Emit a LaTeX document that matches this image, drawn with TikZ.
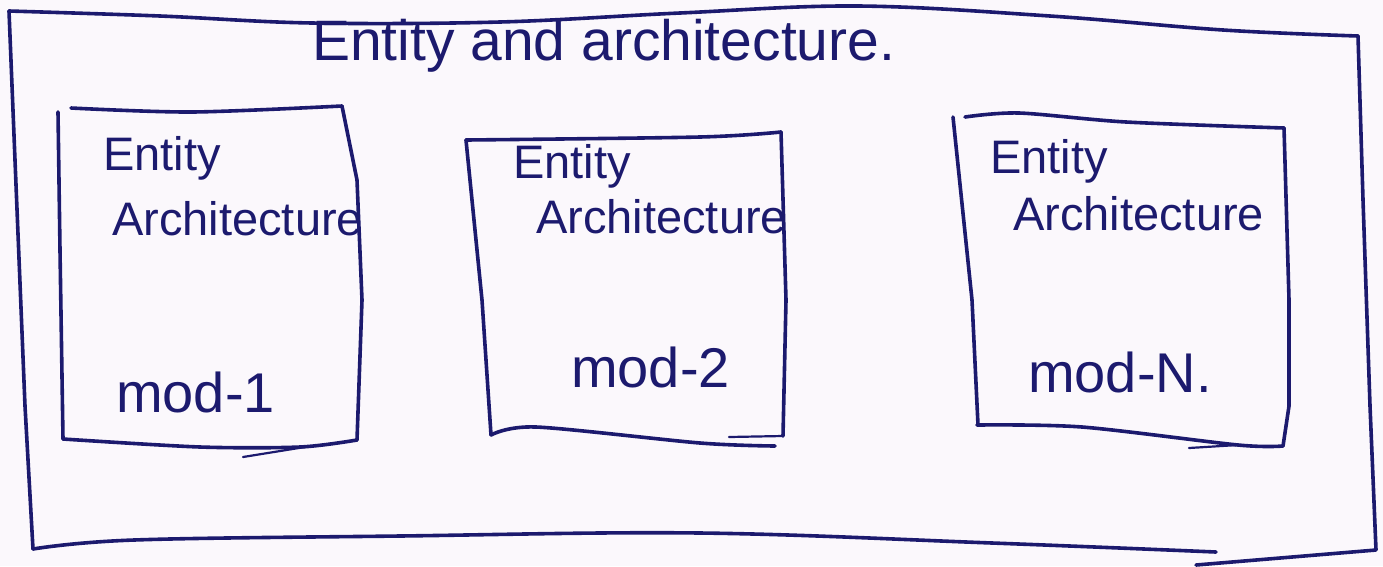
\documentclass[tikz,border=0pt]{standalone}
\usepackage{fontspec}
\setmainfont{Liberation Sans}
\definecolor{ink}{RGB}{28,26,110}
\definecolor{paper}{RGB}{251,248,252}
\begin{document}
\begin{tikzpicture}[x=1pt,y=-1pt,line join=round,line cap=round,
  frame/.style={draw=ink,line width=3.6pt},
  hand/.style={text=ink,anchor=base west,inner sep=0pt,font=\fontsize{47}{50}\selectfont},
  titletext/.style={hand,font=\fontsize{57}{60}\selectfont},
  modlbl/.style={hand,font=\fontsize{56}{60}\selectfont}]
\fill[paper] (0,0) rectangle (1383,566);
\useasboundingbox (0,0) rectangle (1383,566);
% outer frame
\draw[frame] plot[smooth,tension=.6] coordinates {(9,11) (160,16) (312,23) (500,22) (680,13) (858,6) (1050,16) (1223,30) (1358,36)};
\draw[frame] (1358,36) -- (1363,200) -- (1370,406) -- (1376,550) -- (1196,565);
\draw[frame] (9,11) -- (15,160) -- (25,406) -- (33,549);
\draw[frame] plot[smooth,tension=.6] coordinates {(33,549) (134,540) (400,536) (700,533) (992,543) (1216,552)};
% box 1
\draw[frame] plot[smooth,tension=.5] coordinates {(71,108) (192,112) (342,106)};
\draw[frame] (342,106) -- (357,180) -- (362,300) -- (357,440);
\draw[frame] plot[smooth,tension=.5] coordinates {(357,440) (300,447) (200,447) (63,439)};
\draw[frame] (63,439) -- (60,250) -- (58,112);
\draw[frame,line width=2.2pt] (243,457) -- (305,447);
% box 2
\draw[frame] plot[smooth,tension=.5] coordinates {(466,140) (700,137) (781,132)};
\draw[frame] (781,132) -- (786,300) -- (783,436);
\draw[frame] plot[smooth,tension=.5] coordinates {(775,446) (700,443) (536,427) (491,435)};
\draw[frame,line width=2.2pt] (783,436) -- (729,437);
\draw[frame] (491,435) -- (482,300) -- (466,140);
% box 3
\draw[frame] plot[smooth,tension=.5] coordinates {(965,117) (1019,113) (1126,122) (1284,128)};
\draw[frame] (1284,128) -- (1289,300) -- (1289,406) -- (1283,446);
\draw[frame] plot[smooth,tension=.5] coordinates {(1283,446) (1238,445) (1082,427) (977,425)};
\draw[frame,line width=2.2pt] (1189,448) -- (1238,445);
\draw[frame] (978,425) -- (972,300) -- (953,117);
% texts
\node[titletext] (title) at (312,60) {Entity and architecture.};
\node[hand] (ent1) at (103,170) {Entity};
\node[hand] (arc1) at (112,235) {Architecture};
\node[modlbl] (mod1) at (116,412) {mod-1};
\node[hand] (ent2) at (513,178) {Entity};
\node[hand] (arc2) at (536,233) {Architecture};
\node[modlbl] (mod2) at (571,387) {mod-2};
\node[hand] (ent3) at (990,173) {Entity};
\node[hand] (arc3) at (1013,230) {Architecture};
\node[modlbl] (mod3) at (1028,392) {mod-N.};
\end{tikzpicture}
\end{document}
